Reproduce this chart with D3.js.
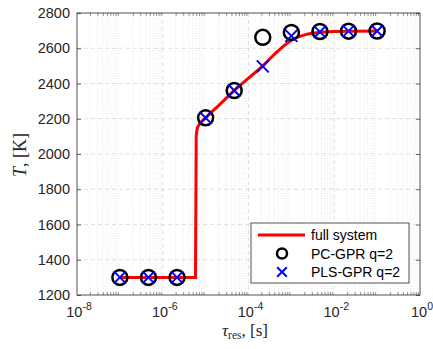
<!DOCTYPE html>
<html><head><meta charset="utf-8">
<script src="https://cdn.jsdelivr.net/npm/d3@7"></script>
<style>body{margin:0;background:#fff}svg{display:block}</style>
</head><body>
<script>
// ---- data ----
const tauPts = [1e-7, 4.64e-7, 2.15e-6, 1e-5, 4.64e-5, 2.15e-4, 1e-3, 4.64e-3, 2.15e-2, 1e-1];
const pcGpr  = [1300, 1300, 1300, 2205, 2360, 2662, 2690, 2695, 2697, 2698];
const plsGpr = [1300, 1300, 1300, 2205, 2360, 2497, 2670, 2693, 2697, 2698];
const fullTau = [1e-7, 5.8e-6, 6.03e-6, 6.6e-6, 1e-5, 2.15e-5, 4.64e-5, 1e-4, 2.15e-4, 4.64e-4, 1e-3, 2.15e-3, 4.64e-3, 1e-2, 1e-1];
const fullT   = [1300, 1300, 2100, 2155, 2205, 2282, 2360, 2430, 2500, 2580, 2645, 2677, 2690, 2695, 2698];
const xTickExp = [-8, -6, -4, -2, 0];
const yTicks = [1200, 1400, 1600, 1800, 2000, 2200, 2400, 2600, 2800];
const legendLabels = ["full system", "PC-GPR q=2", "PLS-GPR q=2"];

const W = 433, H = 349;
const L = 77, R = 420, T = 13, B = 295;
const svg = d3.select("body").append("svg").attr("width", W).attr("height", H);
const x = d3.scaleLog().domain([1e-8, 1]).range([L, R]);
const y = d3.scaleLinear().domain([1200, 2800]).range([B, T]);
const axisCol = "#262626";

// minor grid (x)
const minor = [];
for (let e = -8; e < 0; e++) for (let m = 2; m <= 9; m++) minor.push(m * Math.pow(10, e));
svg.append("g").selectAll("line").data(minor).join("line")
  .attr("x1", d => x(d)).attr("x2", d => x(d)).attr("y1", T).attr("y2", B)
  .attr("stroke", "#dadada").attr("stroke-width", 0.6).attr("stroke-dasharray", "1,1.5");
// major grid
svg.append("g").selectAll("line").data(xTickExp.slice(1, -1)).join("line")
  .attr("x1", d => x(Math.pow(10, d))).attr("x2", d => x(Math.pow(10, d))).attr("y1", T).attr("y2", B)
  .attr("stroke", "#d2d2d2").attr("stroke-width", 0.7).attr("stroke-dasharray", "4,3");
svg.append("g").selectAll("line").data(yTicks.slice(1, -1)).join("line")
  .attr("x1", L).attr("x2", R).attr("y1", d => y(d)).attr("y2", d => y(d))
  .attr("stroke", "#d2d2d2").attr("stroke-width", 0.7).attr("stroke-dasharray", "4,3");

// axes via d3
const xAxisB = d3.axisBottom(x).tickValues(minor).tickSize(-3).tickFormat("");
svg.append("g").attr("transform", `translate(0,${B})`).call(xAxisB)
  .call(g => { g.select(".domain").remove(); g.selectAll("line").attr("stroke", "#555").attr("stroke-width", 0.6); });
const xAxisT = d3.axisTop(x).tickValues(minor).tickSize(-3).tickFormat("");
svg.append("g").attr("transform", `translate(0,${T})`).call(xAxisT)
  .call(g => { g.select(".domain").remove(); g.selectAll("line").attr("stroke", "#555").attr("stroke-width", 0.6); });

const yAxis = d3.axisLeft(y).tickValues(yTicks).tickSize(-4).tickPadding(7).tickFormat(d3.format("d"));
svg.append("g").attr("transform", `translate(${L},0)`).call(yAxis)
  .call(g => { g.select(".domain").remove();
    g.selectAll("line").attr("stroke", axisCol).attr("stroke-width", 0.7);
    g.selectAll("text").attr("font-family", "Liberation Sans, Arial, sans-serif").attr("font-size", 14.5).attr("fill", axisCol); });
const yAxisR = d3.axisRight(y).tickValues(yTicks).tickSize(-4).tickFormat("");
svg.append("g").attr("transform", `translate(${R},0)`).call(yAxisR)
  .call(g => { g.select(".domain").remove(); g.selectAll("line").attr("stroke", axisCol).attr("stroke-width", 0.7); });

// x tick labels with superscripts
const xl = svg.append("g").selectAll("text").data(xTickExp).join("text")
  .attr("x", d => x(Math.pow(10, d)) + 2).attr("y", 317)
  .attr("text-anchor", "middle").attr("font-family", "Liberation Sans, Arial, sans-serif")
  .attr("font-size", 14.5).attr("fill", axisCol);
xl.append("tspan").text("10");
xl.append("tspan").attr("dy", -7).attr("font-size", 10.5).text(d => d === 0 ? "0" : "-" + Math.abs(d));

// box
svg.append("rect").attr("x", L).attr("y", T).attr("width", R - L).attr("height", B - T)
  .attr("fill", "none").attr("stroke", axisCol).attr("stroke-width", 0.8);

// full system line
const line = d3.line().x(d => x(d[0])).y(d => y(d[1])).curve(d3.curveMonotoneX);
svg.append("path").datum(fullTau.map((t, i) => [t, fullT[i]]))
  .attr("d", line).attr("fill", "none").attr("stroke", "#ff0000").attr("stroke-width", 3);

// PC-GPR circles
svg.append("g").selectAll("circle").data(tauPts.map((t, i) => [t, pcGpr[i]])).join("circle")
  .attr("cx", d => x(d[0])).attr("cy", d => y(d[1])).attr("r", 7.5)
  .attr("fill", "none").attr("stroke", "#000").attr("stroke-width", 2.5);
// PLS-GPR crosses
const cs = 6;
const crossPath = (cx, cy, s) => `M${cx - s},${cy - s}L${cx + s},${cy + s}M${cx - s},${cy + s}L${cx + s},${cy - s}`;
svg.append("g").selectAll("path").data(tauPts.map((t, i) => [t, plsGpr[i]])).join("path")
  .attr("d", d => crossPath(x(d[0]), y(d[1]), cs))
  .attr("fill", "none").attr("stroke", "#0000ff").attr("stroke-width", 2);

// axis labels
const yl = svg.append("text").attr("transform", "translate(26,155) rotate(-90)")
  .attr("text-anchor", "middle").attr("font-family", "Liberation Serif, Times New Roman, serif")
  .attr("font-size", 18).attr("fill", axisCol);
yl.append("tspan").attr("font-style", "italic").text("T");
yl.append("tspan").text(", [K]");

const xlab = svg.append("text").attr("x", 245).attr("y", 336)
  .attr("text-anchor", "middle").attr("font-family", "Liberation Serif, Times New Roman, serif")
  .attr("font-size", 17).attr("fill", axisCol);
xlab.append("tspan").attr("font-style", "italic").text("τ");
xlab.append("tspan").attr("font-size", 11.5).attr("dy", 3).text("res");
xlab.append("tspan").attr("dy", -3).text(",  [s]");

// legend
const lg = svg.append("g");
lg.append("rect").attr("x", 251).attr("y", 223).attr("width", 158).attr("height", 60)
  .attr("fill", "#fff").attr("stroke", axisCol).attr("stroke-width", 0.8);
const rows = [235, 253.5, 272];
lg.append("line").attr("x1", 258).attr("x2", 305).attr("y1", rows[0]).attr("y2", rows[0])
  .attr("stroke", "#ff0000").attr("stroke-width", 3);
lg.append("circle").attr("cx", 282).attr("cy", rows[1]).attr("r", 5)
  .attr("fill", "none").attr("stroke", "#000").attr("stroke-width", 2.5);
lg.append("path").attr("d", crossPath(282, rows[2], 4.8))
  .attr("fill", "none").attr("stroke", "#0000ff").attr("stroke-width", 2);
lg.selectAll("text").data(legendLabels).join("text")
  .attr("x", 311).attr("y", (d, i) => rows[i] + 5)
  .attr("font-family", "Liberation Sans, Arial, sans-serif").attr("font-size", 14)
  .attr("fill", "#000").text(d => d);
</script>
</body></html>
